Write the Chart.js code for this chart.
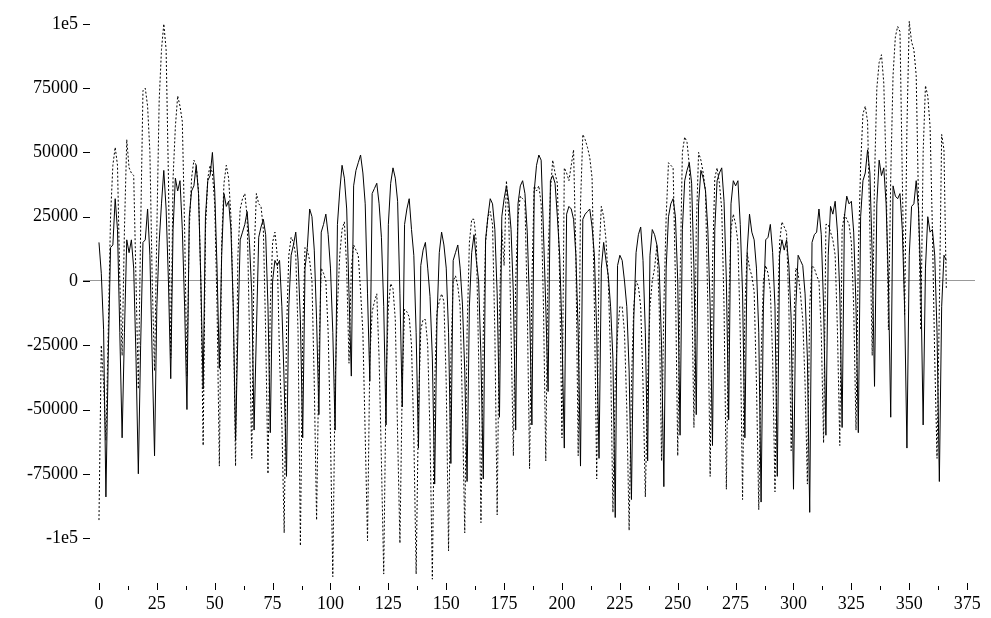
<!DOCTYPE html>
<html>
<head>
<meta charset="utf-8">
<script src="https://cdn.jsdelivr.net/npm/chart.js@4"></script>
<style>
  html, body { margin: 0; padding: 0; background: #fff; }
  canvas { display: block; }
</style>
</head>
<body>
<canvas id="chart" width="991" height="618"></canvas>
<script>
// daily values, in thousands
const solidK = [
  15, 3, -19, -84,
  -30, 13, 14, 32, 20, -20, -61,
  -20, 16, 11, 16, 5, -30, -75,
  -25, 15, 16, 28, 10, -30, -68,
  -10, 15, 30, 43, 28, 0, -38,
  20, 40, 35, 39, 20, -10, -50,
  25, 35, 37, 45, 34, 0, -42,
  25, 39, 41, 50, 35, 5, -34,
  10, 34, 29, 31, 20, -10, -62,
  -20, 16, 19, 22, 27, 15, -5, -58,
  -20, 17, 21, 24, 18, -10, -59,
  0, 8, 6, 8, -10, -40, -76,
  -10, 10, 14, 19, 8, -15, -61,
  5, 13, 28, 25, 12, -15, -52,
  19, 22, 26, 18, 5, -20, -58,
  22, 35, 45, 40, 28, -5, -37,
  37, 43, 46, 49, 42, 30, -5, -39,
  34, 36, 38, 30, 17, -10, -56,
  22, 38, 44, 40, 31, -5, -49,
  22, 28, 32, 20, 10, -20, -65,
  6, 12, 15, 5, -6, -30, -79,
  -15, 11, 19, 14, 5, -20, -71,
  8, 11, 14, 5, -9, -35, -78,
  -10, 11, 18, 8, 0, -30, -77,
  16, 25, 32, 30, 20, -5, -53,
  25, 32, 37, 31, 20, -5, -58,
  30, 37, 39, 34, 19, -10, -56,
  35, 45, 49, 47, 19, -10, -43,
  39, 41, 38, 25, 10, -20, -65,
  26, 29, 28, 24, 10, -20, -72,
  24, 26, 27, 28, 21, 10, -20, -69,
  5, 15, 8, 2, -10, -30, -92,
  6, 10, 8, 0, -10, -35, -85,
  -15, 11, 18, 21, 8, -20, -70,
  10, 20, 18, 14, 5, -25, -80,
  5, 25, 30, 32, 25, 0, -60,
  20, 39, 43, 46, 38, 5, -52,
  30, 43, 40, 35, 20, -10, -64,
  20, 39, 42, 44, 31, 0, -54,
  30, 39, 37, 39, 22, -5, -61,
  12, 26, 19, 16, 5, -20, -86,
  -10, 16, 17, 22, 11, -10, -76,
  10, 16, 12, 16, 6, -15, -81,
  -10, 10, 8, 6, -5, -30, -90,
  15, 18, 19, 28, 18, -10, -60,
  10, 29, 26, 31, 19, -5, -57,
  25, 33, 30, 31, 19, -10, -59,
  25, 39, 42, 51, 42, 10, -41,
  30, 47, 41, 44, 30, 0, -53,
  37, 33, 32, 34, 20, -10, -65,
  10, 29, 30, 39, 28, 0, -56,
  5, 25, 19, 20, 10, -20, -78,
  -10, 10, 8
];

const dottedK = [
  -93, -25, -40, -62,
  -20, 25, 45, 52, 45, 0, -29,
  20, 55, 44, 42, 41, 0, -42,
  20, 74, 75, 68, 50, 0, -35,
  20, 70, 90, 100, 90, 40, -30,
  40, 60, 72, 68, 62, 20, -37,
  20, 40, 47, 45, 35, 0, -64,
  20, 40, 45, 42, 30, -10, -72,
  15, 38, 45, 40, 25, -10, -72,
  10, 28, 32, 34, 25, -20, -69,
  10, 34, 30, 29, 20, -20, -75,
  -10, 15, 19, 10, -30, -55, -98,
  -20, 10, 17, 15, 10, -20, -103,
  -20, 13, 12, 8, 0, -40, -93,
  -30, 5, 3, 0, -20, -60, -115,
  -40, -10, 10, 20, 23, 5, -32,
  5, 14, 12, 10, -4, -20, -60, -101,
  -30, -12, -8, -5, -30, -70, -114,
  -40, -10, -1, -3, -15, -60, -102,
  -40, -11, -12, -14, -25, -60, -114,
  -50, -19, -15, -15, -25, -60, -116,
  -40, -12, -8, -5, -8, -40, -105,
  -30, 0, 2, -2, -10, -50, -98,
  -20, 15, 24, 24, 15, -30, -94,
  -20, 15, 25, 27, 22, -20, -91,
  -10, 20, 6, 39, 25, -20, -68,
  0, 25, 33, 32, 31, -10, -73,
  0, 37, 35, 37, 30, -10, -70,
  10, 35, 47, 42, 38, 0, -61,
  44, 42, 39, 45, 51, 10, -68,
  30, 57, 55, 52, 48, 40, -10, -77,
  10, 29, 25, 16, 0, -30, -90,
  -40, -20, -10, -10, -20, -50, -97,
  -40, -10, 0, -2, -10, -40, -84,
  -40, -10, 0, 5, 14, -10, -70,
  -10, 25, 46, 45, 44, 0, -68,
  0, 50, 56, 54, 45, 0, -57,
  20, 50, 47, 42, 35, -10, -76,
  5, 40, 44, 38, 28, -10, -81,
  -10, 20, 26, 22, 15, -20, -85,
  -10, 11, 5, 2, -4, -40, -89,
  -30, 0, 6, 3, -4, -30, -82,
  -20, 15, 23, 21, 19, -10, -66,
  -20, 5, 3, -5, -15, -40, -79,
  -10, 6, 5, 2, 0, -20, -63,
  22, 22, 19, 16, 10, -20, -64,
  20, 26, 24, 22, 15, -10, -58,
  10, 45, 65, 68, 62, 20, -29,
  40, 75, 85, 88, 77, 44, -19,
  40, 80, 95, 99, 97, 40, -13,
  60, 101, 93, 90, 80, 30, -19,
  50, 76, 72, 60, 20, -30, -69,
  -10, 57, 51, -3
];

const xTicks = [0, 25, 50, 75, 100, 125, 150, 175, 200, 225, 250, 275, 300, 325, 350, 375];
const yTicks = [-100000, -75000, -50000, -25000, 0, 25000, 50000, 75000, 100000];
const yTickLabels = ['-1e5', '-75000', '-50000', '-25000', '0', '25000', '50000', '75000', '1e5'];

const toPoints = arr => arr.map((v, i) => ({ x: i, y: v * 1000 }));

const innerTicks = {
  id: 'innerTicks',
  afterDatasetsDraw(chart) {
    const { ctx, chartArea, scales: { x, y } } = chart;
    ctx.save();
    ctx.strokeStyle = '#000';
    ctx.lineWidth = 1;
    ctx.beginPath();
    for (let v = 0; v <= 375; v += 12.5) {
      const px = Math.round(x.getPixelForValue(v)) + 0.5;
      const len = v % 25 === 0 ? 7 : 4;
      ctx.moveTo(px, chartArea.bottom);
      ctx.lineTo(px, chartArea.bottom - len);
    }
    yTicks.forEach(v => {
      const py = Math.round(y.getPixelForValue(v)) + 0.5;
      ctx.moveTo(chartArea.left, py);
      ctx.lineTo(chartArea.left + 7, py);
    });
    ctx.stroke();
    ctx.restore();
  }
};

const font = { family: '"Liberation Serif", "DejaVu Serif", serif', size: 18 };

new Chart(document.getElementById('chart'), {
  type: 'line',
  data: {
    datasets: [
      {
        data: toPoints(solidK),
        borderColor: '#000',
        borderWidth: 1,
        pointRadius: 0,
        tension: 0
      },
      {
        data: toPoints(dottedK),
        borderColor: '#000',
        borderWidth: 1,
        borderDash: [2, 2],
        pointRadius: 0,
        tension: 0
      }
    ]
  },
  options: {
    responsive: false,
    animation: false,
    devicePixelRatio: 1,
    layout: { padding: { top: 10, right: 16, left: 0, bottom: 0 } },
    plugins: { legend: { display: false }, tooltip: { enabled: false } },
    scales: {
      x: {
        type: 'linear',
        min: -6.9,
        max: 378.4,
        afterBuildTicks: s => { s.ticks = xTicks.map(v => ({ value: v })); },
        afterFit: s => { s.height = 28; s.paddingLeft = 0; s.paddingRight = 0; },
        ticks: { color: '#000', font, padding: 3, maxRotation: 0, autoSkip: false },
        grid: { display: false, drawTicks: false },
        border: { display: false }
      },
      y: {
        min: -120200,
        max: 105400,
        afterBuildTicks: s => { s.ticks = yTicks.map(v => ({ value: v })); },
        afterFit: s => { s.width = 83; s.paddingTop = 0; s.paddingBottom = 0; },
        ticks: {
          color: '#000',
          font,
          padding: 5,
          autoSkip: false,
          callback: v => yTickLabels[yTicks.indexOf(v)]
        },
        grid: {
          drawTicks: false,
          color: c => (c.tick && c.tick.value === 0 ? '#999' : 'rgba(0,0,0,0)'),
          lineWidth: 1
        },
        border: { display: false }
      }
    }
  },
  plugins: [innerTicks]
});
</script>
</body>
</html>
